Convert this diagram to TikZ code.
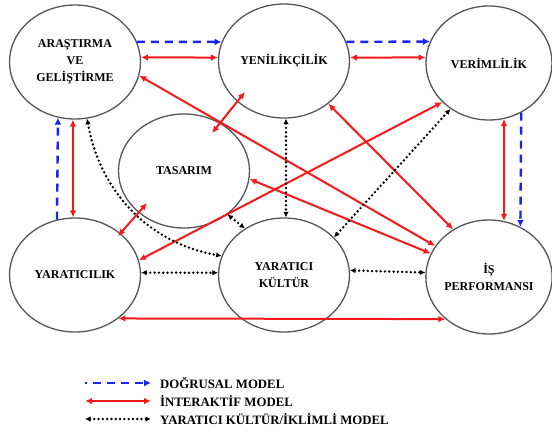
\documentclass[tikz,border=0pt]{standalone}
\usepackage{fontspec}
\setmainfont{Liberation Serif}
\usepackage{xcolor}
\definecolor{linkblue}{RGB}{25, 35, 245}
\definecolor{linkred}{RGB}{245, 25, 25}
\definecolor{rimgray}{RGB}{85, 85, 85}
\usetikzlibrary{arrows.meta, calc, shapes.geometric}

\begin{document}
\begin{tikzpicture}[x=1pt, y=-1pt,
    blob/.style={ellipse, draw=rimgray, line width=1.3pt, minimum width=131pt, minimum height=114pt,
        inner sep=0pt, align=center, font=\fontsize{12}{17}\selectfont\bfseries},
    linear/.style={linkblue, line width=2.4pt, dash pattern=on 8pt off 6pt, -{Latex[length=7pt,width=7pt]}},
    interact/.style={linkred, line width=2pt, {Latex[length=7pt,width=6.5pt]}-{Latex[length=7pt,width=6.5pt]}},
    climate/.style={black, line width=2.7pt, dash pattern=on 0pt off 4.3pt, line cap=round,
        {Latex[length=5.5pt,width=5.5pt]}-{Latex[length=5.5pt,width=5.5pt]}},
    legendtext/.style={anchor=west, inner sep=0pt, font=\fontsize{12.8}{14}\selectfont\bfseries}]

    \useasboundingbox (0,0) rectangle (552,432);

    % the seven blobs
    \node[blob] (arge) at (75,62) {ARAŞTIRMA\\VE\\GELİŞTİRME};
    \node[blob] (yeni) at (284,61) {YENİLİKÇİLİK};
    \node[blob, minimum width=126pt] (verim) at (489,63) {VERİMLİLİK};
    \node[blob] (tasarim) at (184,171) {TASARIM};
    \node[blob] (yaratici) at (75,275) {YARATICILIK};
    \node[blob] (kultur) at (284,275) {YARATICI\\KÜLTÜR};
    \node[blob, minimum width=126pt] (isperf) at (489,277) {İŞ\\PERFORMANSI};

    % dogrusal model
    \draw[linear] (arge.18) -- (yeni.163);
    \draw[linear] (yeni.17) -- (verim.160);
    \draw[linear] (verim.-57) -- (isperf.58);
    \draw[linear] (yaratici.108) -- (arge.-107);

    % interaktif model
    \draw[interact] (arge.4) -- (yeni.177);
    \draw[interact] (yeni.3) -- (verim.175);
    \draw[interact] (verim.-75) -- (isperf.75);
    \draw[interact] (arge.-92) -- (yaratici.92);
    \draw[interact] (yaratici.-45) -- (isperf.224);
    \draw[interact] (arge.-12) -- (isperf.150);
    \draw[interact] (tasarim.-7) -- (isperf.158);
    \draw[interact] (yeni.-44) -- (isperf.127);
    \draw[interact] (yaratici.13) -- (verim.220);
    \draw[interact] ($(yeni)+(-39,31)$) -- ($(tasarim)+(28,-38)$);
    \draw[interact] ($(tasarim)+(-37,32)$) -- ($(yaratici)+(43,-39)$);

    % yaratici kultur modeli
    \draw[climate] (yaratici.2) -- (kultur.178);
    \draw[climate] (kultur.4) -- (isperf.176);
    \draw[climate] (yeni.-88) -- (kultur.88);
    \draw[climate] (verim.230) -- (kultur.37);
    \draw[climate] (tasarim.-45) -- (kultur.130);
    \draw[climate] (arge.-78) .. controls +(13,73) and +(-73,-13) .. (kultur.163);

    % legend
    \node[legendtext] (lgblue) at (160,383) {DOĞRUSAL MODEL};
    \node[legendtext] (lgred) at (160,401) {İNTERAKTİF MODEL};
    \node[legendtext] (lgblack) at (160,419) {YARATICI KÜLTÜR/İKLİMLİ MODEL};
    \coordinate (kblue) at (85,383);
    \coordinate (kred) at (85,401);
    \coordinate (kblack) at (85,419);
    \draw[linear, dash phase=6pt] (kblue) -- ([xshift=-9pt]lgblue.west);
    \draw[interact] (kred) -- ([xshift=-9pt]lgred.west);
    \draw[climate] (kblack) -- ([xshift=-9pt]lgblack.west);
\end{tikzpicture}
\end{document}
